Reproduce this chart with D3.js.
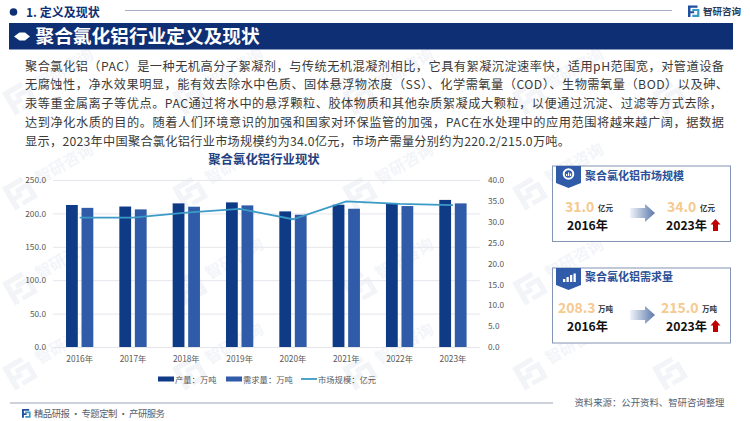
<!DOCTYPE html>
<html><head><meta charset="utf-8">
<script src="https://cdn.jsdelivr.net/npm/d3@7"></script>
<style>
html,body{margin:0;padding:0;background:#fff;overflow:hidden}
svg{display:block;font-family:"Noto Sans CJK SC","Noto Sans",sans-serif}
</style></head><body>
<svg id="c" width="750" height="421"></svg>
<script>
const years=["2016年","2017年","2018年","2019年","2020年","2021年","2022年","2023年"];
const production=[212.6,210.3,215,216.5,203,213,215,220.2];
const demand=[208.3,206,210,212,198,207,211,215];
const marketSize=[31.0,31.0,32.2,33.1,30.6,34.9,34.3,34.0];
const leftTicks=[0,50,100,150,200,250];
const rightTicks=[0,5,10,15,20,25,30,35,40];
const seriesNames=["产量：万吨","需求量：万吨","市场规模：亿元"];
const bodyLines=[
"聚合氯化铝（PAC）是一种无机高分子絮凝剂，与传统无机混凝剂相比，它具有絮凝沉淀速率快，适用pH范围宽，对管道设备",
"无腐蚀性，净水效果明显，能有效去除水中色质、固体悬浮物浓度（SS）、化学需氧量（COD）、生物需氧量（BOD）以及砷、",
"汞等重金属离子等优点。PAC通过将水中的悬浮颗粒、胶体物质和其他杂质絮凝成大颗粒，以便通过沉淀、过滤等方式去除，",
"达到净化水质的目的。随着人们环境意识的加强和国家对环保监管的加强，PAC在水处理中的应用范围将越来越广阔，据数据",
"显示，2023年中国聚合氯化铝行业市场规模约为34.0亿元，市场产需量分别约为220.2/215.0万吨。"];
const bodyEnds=[724,728,722,724,570];

const NAVY="#0f2f74",C1="#0f3a85",C2="#2f5ba8",C3="#3b9ac6";
const svg=d3.select("#c");
const T=(g,x,y,s,size,fill,weight,anchor)=>g.append("text").attr("x",x).attr("y",y).text(s)
  .attr("font-size",size).attr("fill",fill).attr("font-weight",weight||400).attr("text-anchor",anchor||"start");

function logo(g,x,y,k,c1,c2){
  const l=g.append("g").attr("transform",`translate(${x},${y}) scale(${k})`);
  l.append("path").attr("d","M0 0H10V2.4H2.6V6H6.5V8.2H2.6V12H0Z").attr("fill",c1);
  l.append("path").attr("d","M4.5 3.6H12V12H4.5V9.8H9.6V5.8H4.5Z").attr("fill",c2);
}
// watermarks: kept inside the page and very pale
const wmX=[12,182,352,522,662], wmY=[110,205,300,385];
const wm=svg.append("g");
wmY.forEach(y=>wmX.forEach(x=>{
  const g=wm.append("g").attr("transform",`translate(${x},${y}) rotate(-30)`);
  logo(g,0,-20,2.2,"#f2f4f8","#f2f4f8");
  if(x<650) T(g,34,-4,"智研咨询",16,"#f3f5f9",700);
}));

// header
svg.append("circle").attr("cx",13.5).attr("cy",12).attr("r",3.8).attr("fill",NAVY);
T(svg,26,16.5,"1. 定义及现状",12,NAVY,700);
svg.append("line").attr("x1",125).attr("x2",672).attr("y1",10.5).attr("y2",10.5).attr("stroke","#a9aecb").attr("stroke-width",1);
logo(svg,688,5.5,0.95,"#1f4f9f","#3b9ac6");
T(svg,703,14.5,"智研咨询",9.5,"#2b3a55",700);
svg.append("rect").attr("x",9).attr("y",23).attr("width",724).attr("height",26.5).attr("fill",NAVY);
svg.append("path").attr("d","M14 36.5L19.5 32.5H25L30 36.5L25 40.5H19.5Z").attr("fill","#fff");
T(svg,35.5,42.5,"聚合氯化铝行业定义及现状",18.7,"#fff",700);

// body
const body=svg.append("g");
bodyLines.forEach((s,i)=>{
  T(body,25,70.5+i*18.75,s,12.2,"#3a3a3a",400)
   .attr("textLength",bodyEnds[i]-25).attr("lengthAdjust","spacing");
});

// chart
const x0=d3.scaleBand().domain(years).range([53,479.6]).paddingInner(0.488).paddingOuter(0.244);
const x1=d3.scaleBand().domain(["p","d"]).range([0,x0.bandwidth()]).paddingInner(0.24);
const yL=d3.scaleLinear().domain([0,250]).range([347,180]);
const yR=d3.scaleLinear().domain([0,40]).range([347,180]);

T(svg,264,164,"聚合氯化铝行业现状",12.4,"#1f3f80",700,"middle");

const gl=svg.append("g").attr("transform","translate(53,0)")
  .call(d3.axisLeft(yL).tickValues(leftTicks).tickFormat(d3.format(".1f")).tickSize(-426.6).tickPadding(7));
gl.select(".domain").remove();
gl.selectAll(".tick line").attr("stroke","#e4e6ec").attr("stroke-width",1);
gl.selectAll("text").attr("font-size",8.3).attr("fill","#595959").attr("font-family","'Noto Sans CJK SC'");

const gr=svg.append("g").attr("transform","translate(480,0)")
  .call(d3.axisRight(yR).tickValues(rightTicks).tickFormat(d3.format(".1f")).tickSize(0).tickPadding(8));
gr.select(".domain").remove();
gr.selectAll("text").attr("font-size",8.3).attr("fill","#595959").attr("font-family","'Noto Sans CJK SC'");

const gx=svg.append("g").attr("transform","translate(0,347)")
  .call(d3.axisBottom(x0).tickSize(0).tickPadding(9));
gx.select(".domain").remove();
gx.selectAll("text").attr("font-size",8.3).attr("fill","#595959").attr("font-family","'Noto Sans CJK SC'");

const bars=svg.append("g");
years.forEach((y,i)=>{
  bars.append("rect").attr("x",x0(y)+x1("p")).attr("width",x1.bandwidth()).attr("y",yL(production[i])).attr("height",yL(0)-yL(production[i])).attr("fill",C1);
  bars.append("rect").attr("x",x0(y)+x1("d")).attr("width",x1.bandwidth()).attr("y",yL(demand[i])).attr("height",yL(0)-yL(demand[i])).attr("fill",C2);
});
svg.append("path").datum(marketSize)
  .attr("d",d3.line().x((d,i)=>x0(years[i])+x0.bandwidth()/2).y(d=>yR(d)))
  .attr("fill","none").attr("stroke",C3).attr("stroke-width",1.8);

// legend
svg.append("rect").attr("x",158).attr("y",376.5).attr("width",16).attr("height",5).attr("fill",C1);
T(svg,175,382.5,seriesNames[0],8.3,"#595959");
svg.append("rect").attr("x",226).attr("y",376.5).attr("width",16).attr("height",5).attr("fill",C2);
T(svg,243,382.5,seriesNames[1],8.3,"#595959");
svg.append("line").attr("x1",301).attr("x2",317).attr("y1",379).attr("y2",379).attr("stroke",C3).attr("stroke-width",1.8);
T(svg,318,382.5,seriesNames[2],8.3,"#595959");

// cards
const defs=svg.append("defs");
const gd=defs.append("linearGradient").attr("id","ag");
gd.append("stop").attr("offset",0).attr("stop-color","#f1f4f9");
gd.append("stop").attr("offset",1).attr("stop-color","#5b78ab");

function card(o){
  const g=svg.append("g").attr("transform",`translate(0,${o.y})`);
  g.append("rect").attr("x",552.5).attr("y",0).attr("width",178).attr("height",o.h).attr("fill","#fff").attr("stroke","#8494b4").attr("stroke-width",1);
  g.append("path").attr("d","M556 0H581V17L568.5 22L556 17Z").attr("fill","#2f5ba8");
  if(o.icon==="pie"){
    g.append("circle").attr("cx",568.5).attr("cy",8).attr("r",4.8).attr("fill","none").attr("stroke","#fff").attr("stroke-width",2);
    [[566.5,2],[568.5,3.5],[570.5,2.5]].forEach(b=>g.append("rect").attr("x",b[0]-0.5).attr("y",10-b[1]).attr("width",1.2).attr("height",b[1]).attr("fill","#fff"));
  }else{
    [[563,3],[566.5,5],[570,7],[573.5,8.5]].forEach(b=>g.append("rect").attr("x",b[0]).attr("y",14-b[1]).attr("width",2.3).attr("height",b[1]).attr("fill","#fff"));
  }
  T(g,585,o.ty,o.title,11,"#2a5097",700);
  T(g,o.vx1,o.vy,o.v1,14,"#f6c98f",700);
  T(g,o.ux1,o.vy-1,o.unit,7.5,"#333",700);
  T(g,567,o.yy,"2016年",12.2,"#111",700);
  T(g,o.vx2,o.vy,o.v2,14,"#f6c98f",700);
  T(g,o.ux2,o.vy-1,o.unit,7.5,"#333",700);
  T(g,666,o.yy,"2023年",12.2,"#111",700);
  const a=o.ay;
  g.append("path").attr("d",`M630 ${a-5}H645V${a-9}L655 ${a}L645 ${a+9}V${a+5}H630Z`).attr("fill","url(#ag)");
  g.append("path").attr("d",`M715.5 ${o.yy-11}L720.5 ${o.yy-5.5}H718V${o.yy+1}H713V${o.yy-5.5}H710.5Z`).attr("fill","#c00000");
}
card({y:166,h:75.5,icon:"pie",title:"聚合氯化铝市场规模",ty:14,v1:"31.0",v2:"34.0",unit:"亿元",vx1:565,vx2:667,ux1:598,ux2:700,vy:46,yy:64,ay:47});
card({y:268,h:75,icon:"bars",title:"聚合氯化铝需求量",ty:13,v1:"208.3",v2:"215.0",unit:"万吨",vx1:558,vx2:661,ux1:598,ux2:702,vy:45,yy:63,ay:47});

// footer
svg.append("line").attr("x1",10).attr("x2",553).attr("y1",403).attr("y2",403).attr("stroke","#9aa3b5").attr("stroke-width",1);
T(svg,574.5,405.5,"资料来源：公开资料、智研咨询整理",9.4,"#55606f").attr("textLength",150).attr("lengthAdjust","spacing");
logo(svg,22,409,0.72,"#1f4f9f","#3b9ac6");
T(svg,34,417,"精品研报 · 专题定制 · 产研服务",9.4,"#55606f").attr("textLength",131).attr("lengthAdjust","spacing");
</script></body></html>
